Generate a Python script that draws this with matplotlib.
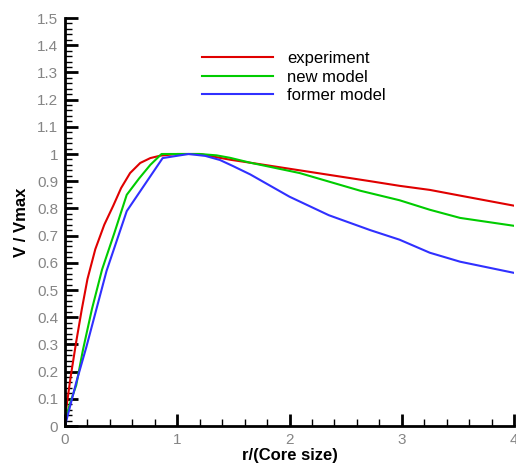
import matplotlib
matplotlib.use("Agg")
import matplotlib.pyplot as plt
from matplotlib.ticker import MultipleLocator, FormatStrFormatter

plt.rcParams['font.family'] = ['Liberation Sans', 'DejaVu Sans']

# experiment
x_exp = [0.01, 0.05, 0.1, 0.15, 0.2, 0.27, 0.35, 0.43, 0.5, 0.58, 0.67, 0.76, 0.85, 1.0, 1.2,
         1.47, 1.65, 2.09, 2.72, 2.98, 3.25, 3.52, 4.0]
y_exp = [0.06, 0.18, 0.31, 0.43, 0.54, 0.65, 0.74, 0.81, 0.875, 0.93, 0.967, 0.985, 0.994, 1.0, 1.0,
         0.979, 0.968, 0.94, 0.90, 0.883, 0.868, 0.847, 0.81]

# new model
x_new = [0.0, 0.05, 0.1, 0.16, 0.24, 0.33, 0.44, 0.55, 0.66, 0.76, 0.86, 1.0, 1.2, 1.35,
         1.47, 1.65, 2.09, 2.63, 2.98, 3.25, 3.52, 4.0]
y_new = [0.02, 0.09, 0.15, 0.28, 0.43, 0.575, 0.71, 0.85, 0.91, 0.96, 1.0, 1.0, 1.0, 0.995,
         0.986, 0.968, 0.93, 0.865, 0.83, 0.795, 0.765, 0.736]

# former model
x_old = [0.0, 0.1, 0.19, 0.28, 0.37, 0.46, 0.55, 0.87, 1.1, 1.25, 1.38, 1.5, 1.65,
         2.0, 2.35, 2.72, 2.98, 3.25, 3.52, 4.0]
y_old = [0.0, 0.16, 0.29, 0.43, 0.57, 0.68, 0.79, 0.985, 1.0, 0.993, 0.978, 0.955, 0.925,
         0.843, 0.775, 0.72, 0.685, 0.637, 0.604, 0.563]

fig = plt.figure(figsize=(5.16, 4.68), dpi=100)
ax = fig.add_axes([65/516, 42/468, 449/516, 408/468])

ax.plot(x_exp, y_exp, color="#e00000", lw=1.5, label="experiment")
ax.plot(x_new, y_new, color="#00cc00", lw=1.5, label="new model")
ax.plot(x_old, y_old, color="#3030ff", lw=1.5, label="former model")

ax.set_xlim(0, 4)
ax.set_ylim(0, 1.5)
ax.xaxis.set_major_locator(MultipleLocator(1))
ax.xaxis.set_minor_locator(MultipleLocator(0.2))
ax.yaxis.set_major_locator(MultipleLocator(0.1))
ax.yaxis.set_minor_locator(MultipleLocator(0.02))
ax.xaxis.set_major_formatter(FormatStrFormatter('%g'))
ax.yaxis.set_major_formatter(FormatStrFormatter('%g'))

for s in ["top", "right"]:
    ax.spines[s].set_visible(False)
for s in ["left", "bottom"]:
    ax.spines[s].set_linewidth(2)

ax.tick_params(which="major", direction="in", length=9, width=2,
               labelsize=11, labelcolor="#858585", pad=5)
ax.tick_params(which="minor", direction="in", length=5, width=1)

ax.set_xlabel("r/(Core size)", fontsize=12, fontweight="bold", labelpad=1)
ax.set_ylabel("V / Vmax", fontsize=12, fontweight="bold", labelpad=6)

ax.legend(loc="upper left", bbox_to_anchor=(137/449, 1 - 33/408), frameon=False,
          fontsize=12, handlelength=4.25, handletextpad=0.85, labelspacing=0.22,
          borderaxespad=0, borderpad=0)

fig.savefig("out.png", dpi=100)
